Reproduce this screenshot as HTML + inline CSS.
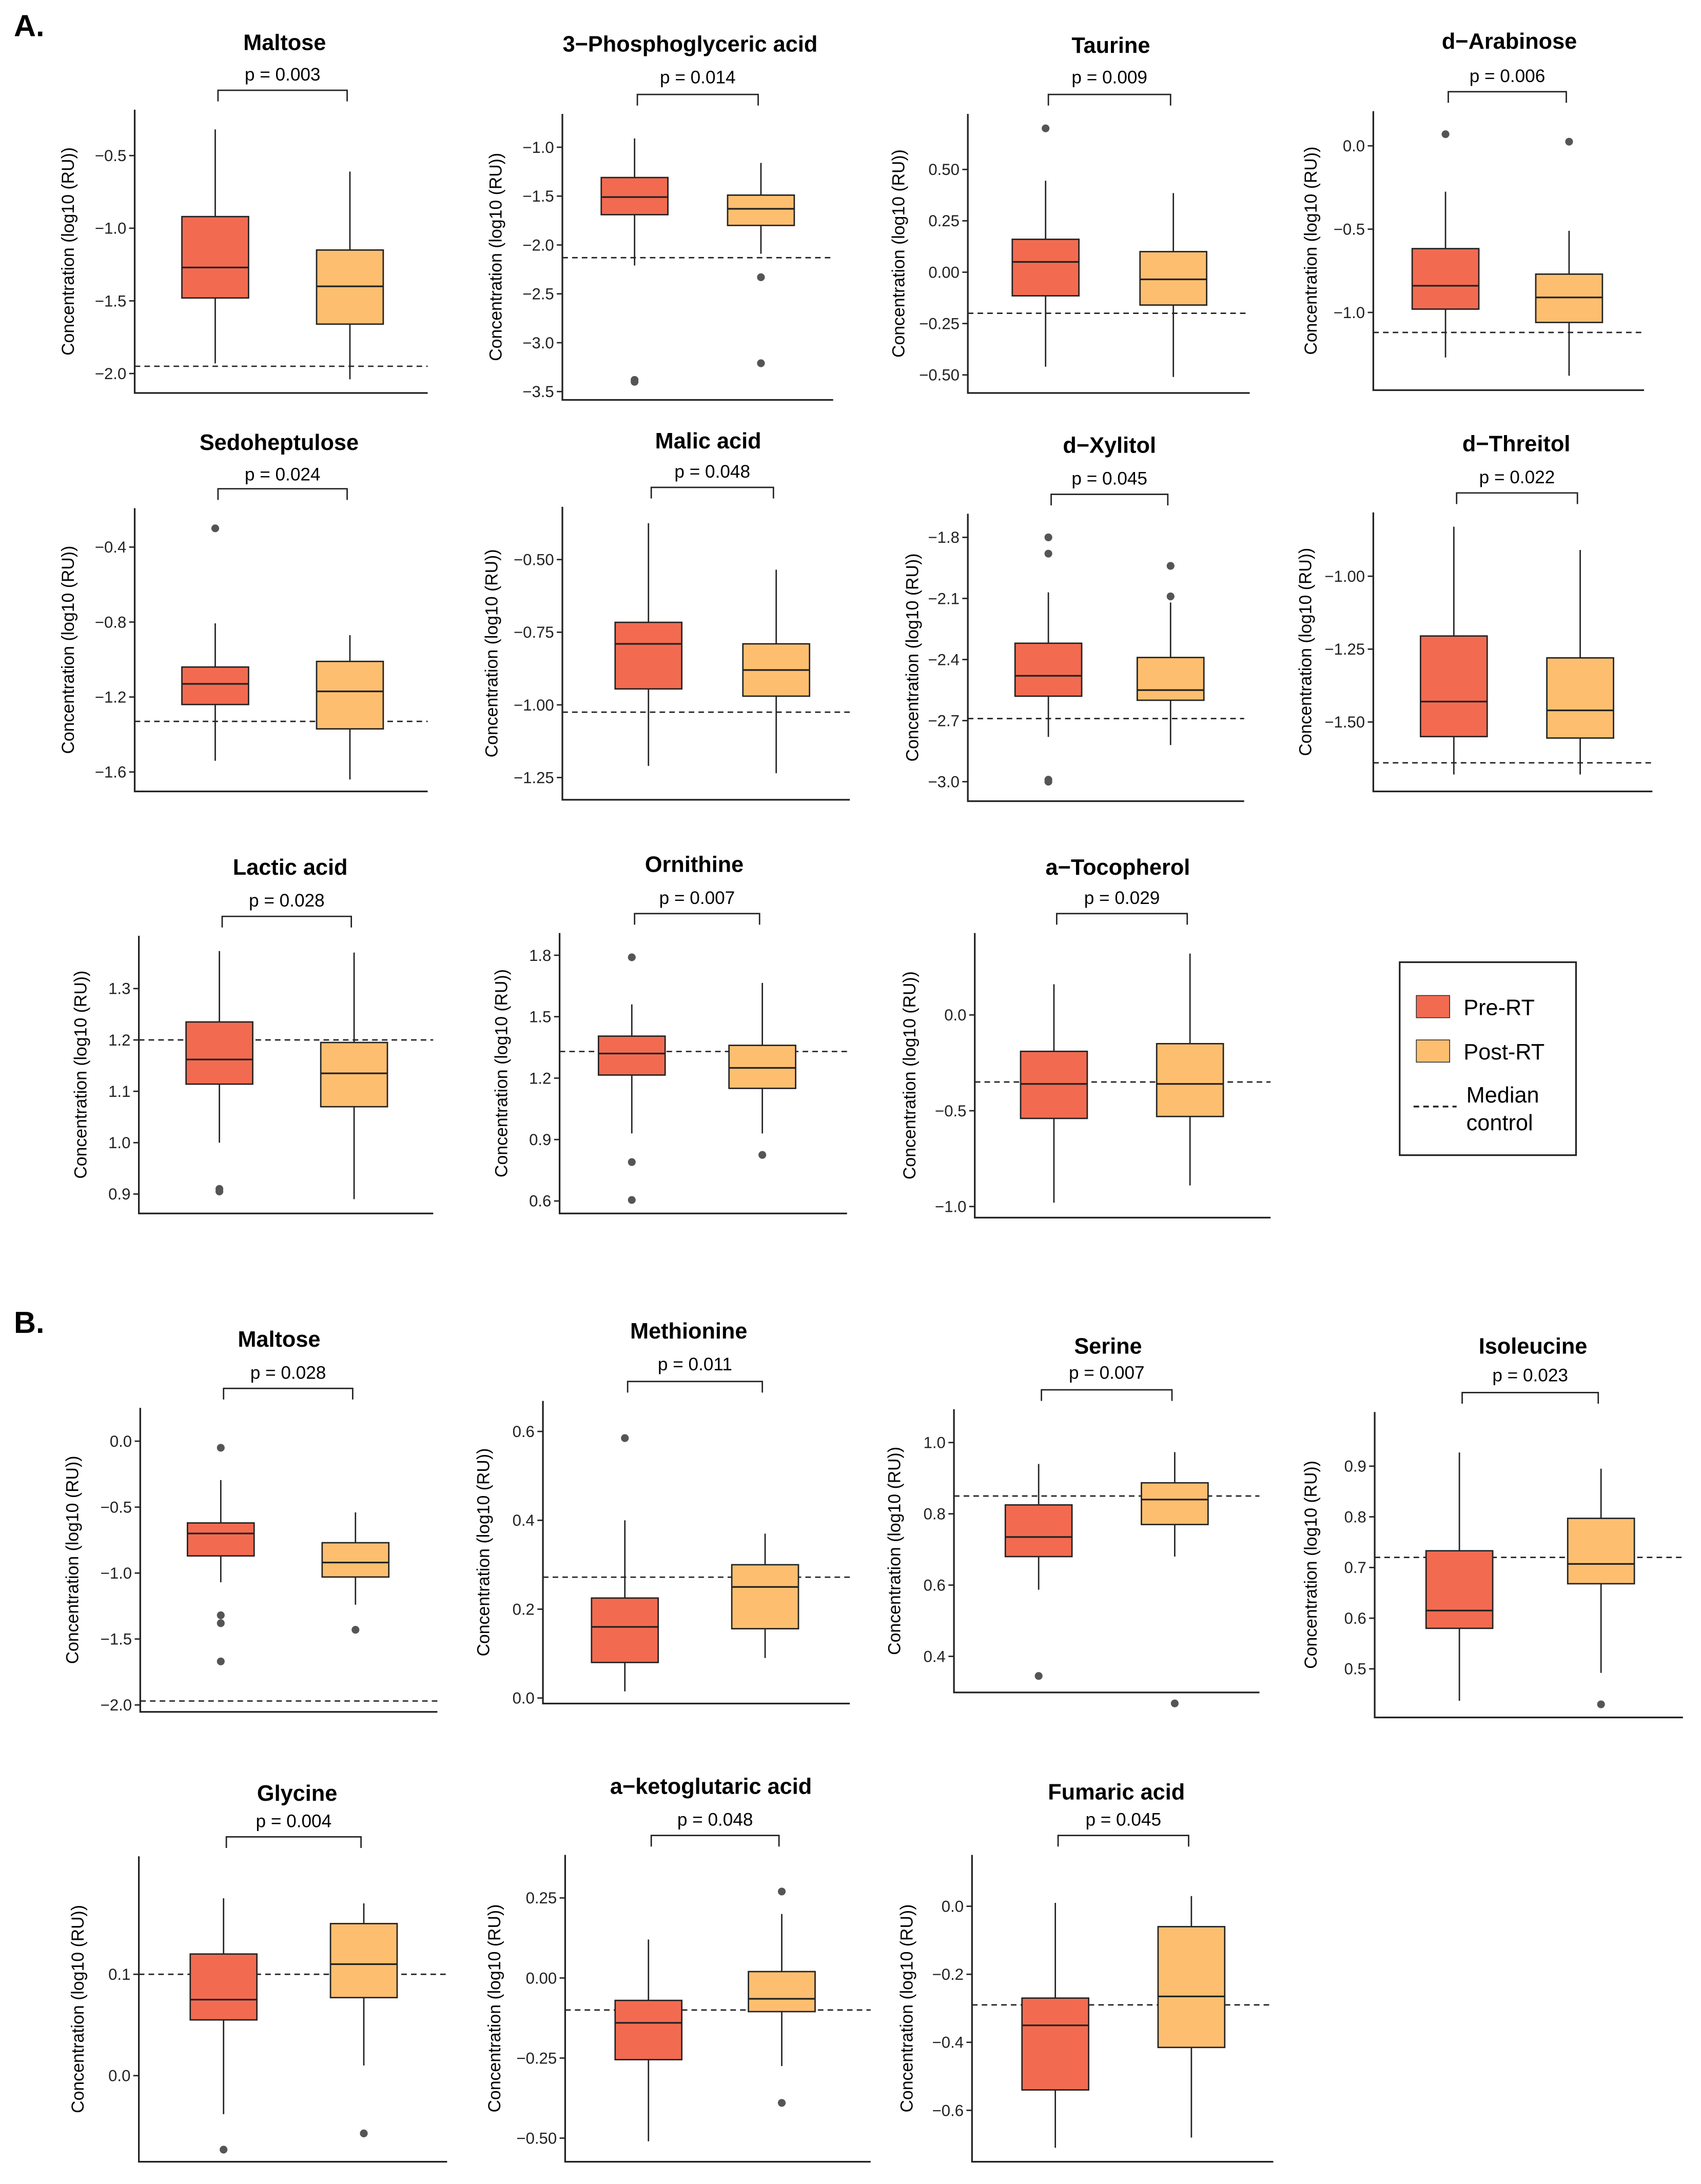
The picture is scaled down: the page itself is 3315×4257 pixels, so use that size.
<!DOCTYPE html>
<html><head><meta charset="utf-8">
<style>
html,body{margin:0;padding:0;background:#fff;}
svg{display:block;font-family:"Liberation Sans",Arial,sans-serif;}
</style></head>
<body>
<svg id="fig" width="3315" height="4257" viewBox="0 0 1225 1573" xmlns="http://www.w3.org/2000/svg">
<rect x="0" y="0" width="1225" height="1573" fill="#fff"/>
<text x="10" y="26" font-size="22" font-weight="bold">A.</text>
<text x="10" y="960" font-size="22" font-weight="bold">B.</text>
<g>
<rect x="1008" y="693" width="127" height="139" fill="none" stroke="#222" stroke-width="1.2"/>
<rect x="1020" y="717" width="24" height="16" fill="#F26B50" stroke="#333" stroke-width="0.6"/>
<text x="1054" y="731" font-size="16">Pre-RT</text>
<rect x="1020" y="749" width="24" height="16" fill="#FDBF6F" stroke="#333" stroke-width="0.6"/>
<text x="1054" y="763" font-size="16">Post-RT</text>
<line x1="1018" y1="797" x2="1049" y2="797" stroke="#222" stroke-width="1.3" stroke-dasharray="4,3"/>
<text x="1056" y="794" font-size="16">Median</text>
<text x="1056" y="814" font-size="16">control</text>
</g>
</svg>
<script>
const titles=["Maltose","3\u2212Phosphoglyceric acid","Taurine","d\u2212Arabinose","Sedoheptulose","Malic acid","d\u2212Xylitol","d\u2212Threitol","Lactic acid","Ornithine","a\u2212Tocopherol","Maltose","Methionine","Serine","Isoleucine","Glycine","a\u2212ketoglutaric acid","Fumaric acid"];
const pValues=["0.003","0.014","0.009","0.006","0.024","0.048","0.045","0.022","0.028","0.007","0.029","0.028","0.011","0.007","0.023","0.004","0.048","0.045"];
// [whiskerLow, q1, median, q3, whiskerHigh]
const preStats=[[-1.93,-1.48,-1.27,-0.92,-0.32],[-2.21,-1.69,-1.51,-1.31,-0.91],[-0.46,-0.115,0.05,0.16,0.445],[-1.27,-0.98,-0.84,-0.617,-0.275],
[-1.54,-1.24,-1.13,-1.04,-0.807],[-1.21,-0.945,-0.79,-0.716,-0.375],[-2.78,-2.58,-2.48,-2.32,-2.07],[-1.68,-1.55,-1.43,-1.205,-0.83],
[1.0,1.114,1.162,1.235,1.373],[0.93,1.215,1.32,1.405,1.56],[-0.98,-0.54,-0.36,-0.19,0.16],
[-1.07,-0.87,-0.70,-0.62,-0.295],[0.015,0.08,0.16,0.225,0.40],[0.587,0.68,0.735,0.825,0.94],[0.437,0.58,0.615,0.733,0.927],
[-0.038,0.055,0.075,0.12,0.175],[-0.51,-0.255,-0.14,-0.07,0.12],[-0.71,-0.54,-0.35,-0.27,0.01]];
const postStats=[[-2.04,-1.66,-1.40,-1.15,-0.61],[-2.09,-1.80,-1.63,-1.49,-1.16],[-0.51,-0.16,-0.035,0.10,0.385],[-1.38,-1.06,-0.91,-0.77,-0.51],
[-1.64,-1.37,-1.17,-1.01,-0.87],[-1.235,-0.97,-0.88,-0.79,-0.535],[-2.82,-2.60,-2.55,-2.39,-2.12],[-1.68,-1.555,-1.46,-1.28,-0.91],
[0.89,1.07,1.135,1.195,1.37],[0.93,1.15,1.25,1.36,1.665],[-0.89,-0.53,-0.36,-0.15,0.32],
[-1.24,-1.03,-0.92,-0.77,-0.54],[0.09,0.156,0.25,0.30,0.37],[0.68,0.77,0.84,0.887,0.973],[0.492,0.668,0.707,0.797,0.895],
[0.01,0.077,0.11,0.15,0.17],[-0.275,-0.105,-0.065,0.02,0.20],[-0.68,-0.415,-0.265,-0.06,0.03]];
const preOutliers=[[],[-3.38,-3.40],[0.70],[0.07],[-0.30],[],[-1.80,-1.88,-2.99,-3.0],[],[0.905,0.91],[1.79,0.79,0.605],[],[-0.05,-1.32,-1.38,-1.67],[0.585],[0.345],[],[-0.073],[],[]];
const postOutliers=[[],[-2.33,-3.21],[],[0.025],[],[],[-1.94,-2.09],[],[],[0.825],[],[-1.43],[],[0.268],[0.43],[-0.057],[0.27,-0.39],[]];
const controlMedians=[-1.95,-2.13,-0.20,-1.12,-1.33,-1.025,-2.69,-1.64,1.20,1.33,-0.35,-1.97,0.272,0.85,0.72,0.10,-0.10,-0.29];
const tickValues=[[-0.5,-1.0,-1.5,-2.0],[-1.0,-1.5,-2.0,-2.5,-3.0,-3.5],[0.5,0.25,0,-0.25,-0.5],[0.0,-0.5,-1.0],
[-0.4,-0.8,-1.2,-1.6],[-0.5,-0.75,-1.0,-1.25],[-1.8,-2.1,-2.4,-2.7,-3.0],[-1.0,-1.25,-1.5],
[1.3,1.2,1.1,1.0,0.9],[1.8,1.5,1.2,0.9,0.6],[0.0,-0.5,-1.0],
[0.0,-0.5,-1.0,-1.5,-2.0],[0.6,0.4,0.2,0.0],[1.0,0.8,0.6,0.4],[0.9,0.8,0.7,0.6,0.5],
[0.1,0.0],[0.25,0.0,-0.25,-0.5],[0.0,-0.2,-0.4,-0.6]];
const tickLabels=[["-0.5","-1.0","-1.5","-2.0"],["-1.0","-1.5","-2.0","-2.5","-3.0","-3.5"],["0.50","0.25","0.00","-0.25","-0.50"],["0.0","-0.5","-1.0"],
["-0.4","-0.8","-1.2","-1.6"],["-0.50","-0.75","-1.00","-1.25"],["-1.8","-2.1","-2.4","-2.7","-3.0"],["-1.00","-1.25","-1.50"],
["1.3","1.2","1.1","1.0","0.9"],["1.8","1.5","1.2","0.9","0.6"],["0.0","-0.5","-1.0"],
["0.0","-0.5","-1.0","-1.5","-2.0"],["0.6","0.4","0.2","0.0"],["1.0","0.8","0.6","0.4"],["0.9","0.8","0.7","0.6","0.5"],
["0.1","0.0"],["0.25","0.00","-0.25","-0.50"],["0.0","-0.2","-0.4","-0.6"]];
// layout (pixels): axisLeft, axisRight, axisBottom, domain0, pix0, domain1, pix1, box1cx, box2cx, titleX, titleY, pY, bracketY, yTitleX
const layout=[[97,308,283,-0.5,112,-2.0,269,155,252,205,30,53,65,50],
[405,600,288,-1.0,106,-3.5,282,457,548,497,31,55,68,358],
[697,900,283,0.5,122,-0.5,270,753,845,800,32,55,68,648],
[989,1184,281,0.0,105,-1.0,225,1041,1130,1087,29,54,66,945],
[97,308,570,-0.4,394,-1.6,556,155,252,201,318,341,352,50],
[405,612,576,-0.5,403,-1.25,560,467,559,510,317,339,351,355],
[697,896,577,-1.8,387,-3.0,563,755,843,799,320,344,356,658],
[989,1190,570,-1.0,415,-1.5,520,1047,1138,1092,319,343,355,941],
[100,312,874,1.3,712,0.9,860,158,255,209,624,648,660,59],
[403,610,874,1.8,688,0.6,865,455,549,500,622,646,658,362],
[702,915,877,0.0,731,-1.0,869,759,857,805,624,646,658,656],
[101,315,1233,0.0,1038,-2.0,1228,159,256,201,964,988,1000,53],
[391,612,1227,0.6,1031,0.0,1223,450,551,496,958,982,995,349],
[687,907,1219,1.0,1039,0.4,1193,748,846,798,969,988,1001,645],
[990,1212,1237,0.9,1056,0.5,1202,1051,1153,1104,969,990,1003,945],
[100,322,1557,0.1,1422,0.0,1495,161,262,214,1291,1311,1323,57],
[407,627,1557,0.25,1367,-0.5,1540,467,563,512,1286,1310,1322,357],
[700,917,1557,0.0,1373,-0.6,1520,760,858,804,1290,1310,1322,654]];
const NS="http://www.w3.org/2000/svg";
const svg=document.getElementById('fig');
function mk(tag,attrs,parent){const e=document.createElementNS(NS,tag);for(const k in attrs)e.setAttribute(k,attrs[k]);parent.appendChild(e);return e;}
const boxW=48;
for(let i=0;i<titles.length;i++){
  const L=layout[i];
  const [axL,axR,axB,d0,p0,d1,p1,c1,c2,tx,ty,py,by,ytx]=L;
  const y=v=>p0+(v-d0)*(p1-p0)/(d1-d0);
  const g=mk('g',{},svg);
  
  
  const t=mk('text',{x:tx,y:ty+6,'font-size':16,'font-weight':'bold','text-anchor':'middle'},g);
  t.textContent=titles[i];
  
  
  const pt=mk('text',{x:(c1+c2)/2,y:py+5,'font-size':13,'text-anchor':'middle'},g);
  pt.textContent='p = '+pValues[i];
  
  
  const br=mk('path',{d:`M${c1+2},${by+8}V${by}H${c2-2}V${by+8}`,fill:'none',stroke:'#222','stroke-width':1},g);
  
  
  const axTop=by+14;
  const ax=mk('path',{d:`M${axL},${axTop}V${axB}H${axR}`,fill:'none',stroke:'#222','stroke-width':1.2},g);
  
  
  tickValues[i].forEach((v,k)=>{
    const yy=y(v);
    const tl=mk('line',{x1:axL-4,y1:yy,x2:axL,y2:yy,stroke:'#222','stroke-width':1},g);
    
    
    const lab=mk('text',{x:axL-6,y:yy+4,'font-size':11.5,'text-anchor':'end',fill:'#222'},g);
    lab.textContent=tickLabels[i][k].replace('-','\u2212');
    
    
  });
  const yc=(axTop+axB)/2;
  const yt=mk('text',{x:ytx,y:yc,'font-size':12.5,'text-anchor':'middle',transform:`rotate(-90 ${ytx} ${yc})`,'dominant-baseline':'middle'},g);
  yt.textContent='Concentration (log10 (RU))';
  
  
  const cm=mk('line',{x1:axL,y1:y(controlMedians[i]),x2:axR,y2:y(controlMedians[i]),stroke:'#222','stroke-width':1,'stroke-dasharray':'4,3'},g);
  
  
  [[preStats[i],preOutliers[i],c1,'#F26B50','pre-rt'],[postStats[i],postOutliers[i],c2,'#FDBF6F','post-rt']].forEach(([s,o,cx,col,nm])=>{
    const w=mk('path',{d:`M${cx},${y(s[0])}V${y(s[1])}M${cx},${y(s[3])}V${y(s[4])}`,stroke:'#222','stroke-width':1,fill:'none'},g);
    
    
    const b=mk('rect',{x:cx-boxW/2,y:y(s[3]),width:boxW,height:y(s[1])-y(s[3]),fill:col,stroke:'#222','stroke-width':1},g);
    
    
    const m=mk('line',{x1:cx-boxW/2,y1:y(s[2]),x2:cx+boxW/2,y2:y(s[2]),stroke:'#222','stroke-width':1.2},g);
    
    
    o.forEach(v=>{
      const c=mk('circle',{cx:cx,cy:y(v),r:2.8,fill:'#555'},g);
      
      
    });
  });
}
</script>
</body></html>
